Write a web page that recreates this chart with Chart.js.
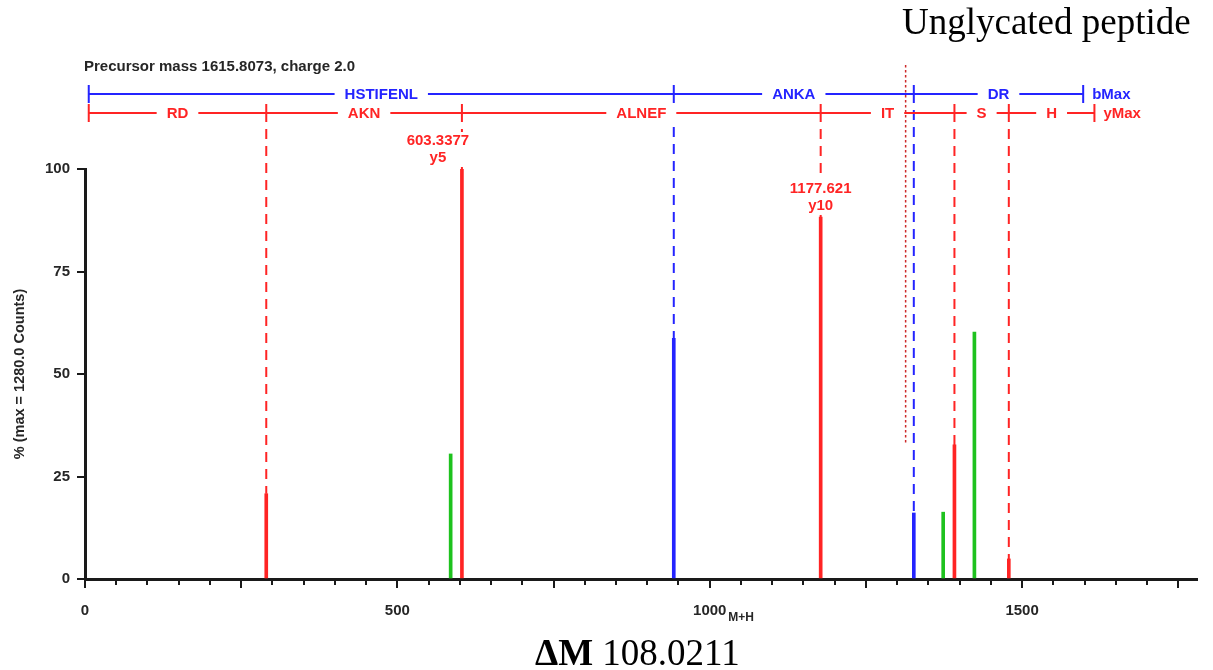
<!DOCTYPE html>
<html>
<head>
<meta charset="utf-8">
<title>MS/MS spectrum</title>
<script src="https://cdn.jsdelivr.net/npm/chart.js@4.4.1/dist/chart.umd.min.js"></script>
<style>
  html, body { margin: 0; padding: 0; background: #ffffff; }
  #wrap { position: relative; width: 1213px; height: 670px; }
</style>
</head>
<body>
<div id="wrap"><canvas id="spectrum" width="1213" height="670"></canvas></div>
<script>
// ---- spectrum data (m/z, % of base peak) ----
const yIonMz   = [290.146, 603.3377, 1177.621, 1391.728, 1478.760];
const yIonPct  = [20.8, 100, 88.3, 32.7, 4.9];
const bIonMz   = [942.468, 1326.680];
const bIonPct  = [58.7, 16.1];
const lossMz   = [585.31, 1373.72, 1423.69];
const lossPct  = [30.5, 16.3, 60.2];

// ---- fragment ladders ----
const bLadderMz  = [6, 942.468, 1326.680, 1597.8];
const bLadderSeq = ['HSTIFENL', 'ANKA', 'DR'];
const yLadderMz  = [6, 290.146, 603.3377, 1177.621, 1391.728, 1478.760, 1615.81];
const yLadderSeq = ['RD', 'AKN', 'ALNEF', 'IT', 'S', 'H'];

// ---- annotated peaks and marker ----
const annotatedMz  = [603.3377, 1177.621];
const annotatedIon = ['y5', 'y10'];
const markerMz     = 1313.6;

// ---- axes ----
const mzTickLabels  = [0, 500, 1000, 1500];
const pctTickLabels = [0, 25, 50, 75, 100];
const mzMax = 1780;

// ---- look ----
const RED = '#ff2424';
const BLUE = '#2424ff';
const GREEN = '#1ec21e';
const INK = '#1a1a1a';
const TEXT = '#262626';
const SANS = '"Liberation Sans", Arial, sans-serif';
const SERIF = '"Liberation Serif", "Times New Roman", serif';
const B_ROW = 94;          // pixel row of the b-ion ladder
const Y_ROW = 113;         // pixel row of the y-ion ladder
const LADDER_TICK = 9;
const annotationShift = [-24, 0];

function drawLadder(ctx, xs, masses, seq, color, rowY, endLabel) {
  const px = masses.map(m => xs.getPixelForValue(m));
  ctx.save();
  ctx.strokeStyle = color;
  ctx.lineWidth = 2;
  ctx.beginPath();
  ctx.moveTo(px[0], rowY);
  ctx.lineTo(px[px.length - 1], rowY);
  px.forEach(p => { ctx.moveTo(p, rowY - LADDER_TICK); ctx.lineTo(p, rowY + LADDER_TICK); });
  ctx.stroke();
  ctx.font = 'bold 15px ' + SANS;
  ctx.textBaseline = 'middle';
  ctx.textAlign = 'center';
  seq.forEach((s, i) => {
    const cx = (px[i] + px[i + 1]) / 2;
    const w = ctx.measureText(s).width + 20;
    ctx.fillStyle = '#ffffff';
    ctx.fillRect(cx - w / 2, rowY - 8, w, 17);
    ctx.fillStyle = color;
    ctx.fillText(s, cx, rowY + 1);
  });
  ctx.textAlign = 'left';
  ctx.fillText(endLabel, px[px.length - 1] + 9, rowY + 1);
  ctx.restore();
}

const spectrumDecor = {
  id: 'spectrumDecor',
  beforeDatasetsDraw(chart) {
    const ctx = chart.ctx, xs = chart.scales.x, ys = chart.scales.y;
    ctx.save();
    ctx.lineWidth = 2;
    ctx.setLineDash([10, 7]);
    ctx.lineDashOffset = 10;
    const connect = (m, pct, color, rowY) => {
      const x = xs.getPixelForValue(m);
      ctx.strokeStyle = color;
      ctx.beginPath();
      ctx.moveTo(x, rowY + LADDER_TICK);
      ctx.lineTo(x, ys.getPixelForValue(pct));
      ctx.stroke();
    };
    yIonMz.forEach((m, i) => connect(m, yIonPct[i], RED, Y_ROW));
    bIonMz.forEach((m, i) => connect(m, bIonPct[i], BLUE, B_ROW));
    // precursor-related marker
    ctx.setLineDash([2.5, 2.5]);
    ctx.lineDashOffset = 0;
    ctx.lineWidth = 1.5;
    ctx.strokeStyle = '#cc2a2a';
    const xm = xs.getPixelForValue(markerMz);
    ctx.beginPath();
    ctx.moveTo(xm, 65);
    ctx.lineTo(xm, ys.getPixelForValue(32.7));
    ctx.stroke();
    ctx.restore();
  },
  afterDatasetsDraw(chart) {
    const ctx = chart.ctx, xs = chart.scales.x, ys = chart.scales.y;
    const axisY = chart.chartArea.bottom;

    drawLadder(ctx, xs, bLadderMz, bLadderSeq, BLUE, B_ROW, 'bMax');
    drawLadder(ctx, xs, yLadderMz, yLadderSeq, RED, Y_ROW, 'yMax');

    // labels over the annotated peaks
    ctx.save();
    ctx.font = 'bold 15px ' + SANS;
    ctx.textAlign = 'center';
    ctx.textBaseline = 'middle';
    annotatedMz.forEach((m, i) => {
      const idx = yIonMz.indexOf(m);
      const top = ys.getPixelForValue(yIonPct[idx]);
      const cx = xs.getPixelForValue(m) + annotationShift[i];
      const t1 = String(m), t2 = annotatedIon[i];
      const w = Math.max(ctx.measureText(t1).width, ctx.measureText(t2).width) + 4;
      ctx.fillStyle = '#ffffff';
      ctx.fillRect(cx - w / 2, top - 37, w, 35);
      ctx.fillStyle = RED;
      ctx.fillText(t1, cx, top - 28);
      ctx.fillText(t2, cx, top - 11);
    });
    ctx.restore();

    // m/z axis tick marks every 50, longer every 250
    ctx.save();
    ctx.strokeStyle = INK;
    ctx.lineWidth = 2;
    ctx.beginPath();
    for (let v = 0; v <= mzMax; v += 50) {
      const x = Math.round(xs.getPixelForValue(v));
      const len = v % 250 === 0 ? 9 : 6;
      ctx.moveTo(x, axisY);
      ctx.lineTo(x, axisY + len);
    }
    ctx.stroke();
    ctx.restore();

    // header and footer texts
    ctx.save();
    ctx.fillStyle = TEXT;
    ctx.textBaseline = 'middle';
    ctx.textAlign = 'left';
    ctx.font = 'bold 15px ' + SANS;
    ctx.fillText('Precursor mass 1615.8073, charge 2.0', 84, 67);
    ctx.font = 'bold 12px ' + SANS;
    ctx.textAlign = 'center';
    ctx.fillText('M+H', 741, 618);

    ctx.fillStyle = '#000000';
    ctx.textBaseline = 'alphabetic';
    ctx.textAlign = 'left';
    ctx.font = '37px ' + SERIF;
    ctx.fillText('Unglycated peptide', 902, 34);

    ctx.font = 'bold 37px ' + SERIF;
    const dm = '\u0394M';
    const wdm = ctx.measureText(dm).width;
    ctx.fillText(dm, 535, 665);
    ctx.font = '37px ' + SERIF;
    ctx.fillText(' 108.0211', 535 + wdm, 665);
    ctx.restore();
  }
};

const toPoints = (xsArr, ysArr) => xsArr.map((m, i) => ({ x: m, y: ysArr[i] }));
const stick = (data, color) => ({
  data, backgroundColor: color, borderWidth: 0,
  barThickness: 3, grouped: false
});

new Chart(document.getElementById('spectrum'), {
  type: 'bar',
  data: {
    datasets: [
      stick(toPoints(lossMz, lossPct), GREEN),
      stick(toPoints(bIonMz, bIonPct), BLUE),
      stick(toPoints(yIonMz, yIonPct), RED)
    ]
  },
  options: {
    responsive: false,
    animation: false,
    events: [],
    layout: { padding: { top: 169, right: 16, left: 0, bottom: 0 } },
    plugins: { legend: { display: false }, tooltip: { enabled: false } },
    scales: {
      x: {
        type: 'linear', min: 0, max: mzMax, offset: false,
        afterBuildTicks: s => { s.ticks = mzTickLabels.map(v => ({ value: v })); },
        afterFit: s => { s.height = 91; },
        grid: { display: false },
        border: { display: true, color: INK, width: 3 },
        ticks: {
          autoSkip: false, maxRotation: 0, padding: 15, color: TEXT,
          font: { family: SANS, size: 15, weight: 'bold' },
          callback: v => String(v)
        }
      },
      y: {
        min: 0, max: 100,
        afterBuildTicks: s => { s.ticks = pctTickLabels.map(v => ({ value: v })); },
        afterFit: s => { s.width = 85; },
        grid: { display: true, drawOnChartArea: false, drawTicks: true, tickLength: 8, color: INK, lineWidth: 2 },
        border: { display: true, color: INK, width: 3 },
        ticks: { padding: 7, color: TEXT, font: { family: SANS, size: 15, weight: 'bold' }, callback: v => String(v) },
        title: {
          display: true, text: '% (max = 1280.0 Counts)', color: TEXT,
          font: { family: SANS, size: 14.5, weight: 'bold' }, padding: { top: 11, bottom: 0 }
        }
      }
    }
  },
  plugins: [spectrumDecor]
});
</script>
</body>
</html>
